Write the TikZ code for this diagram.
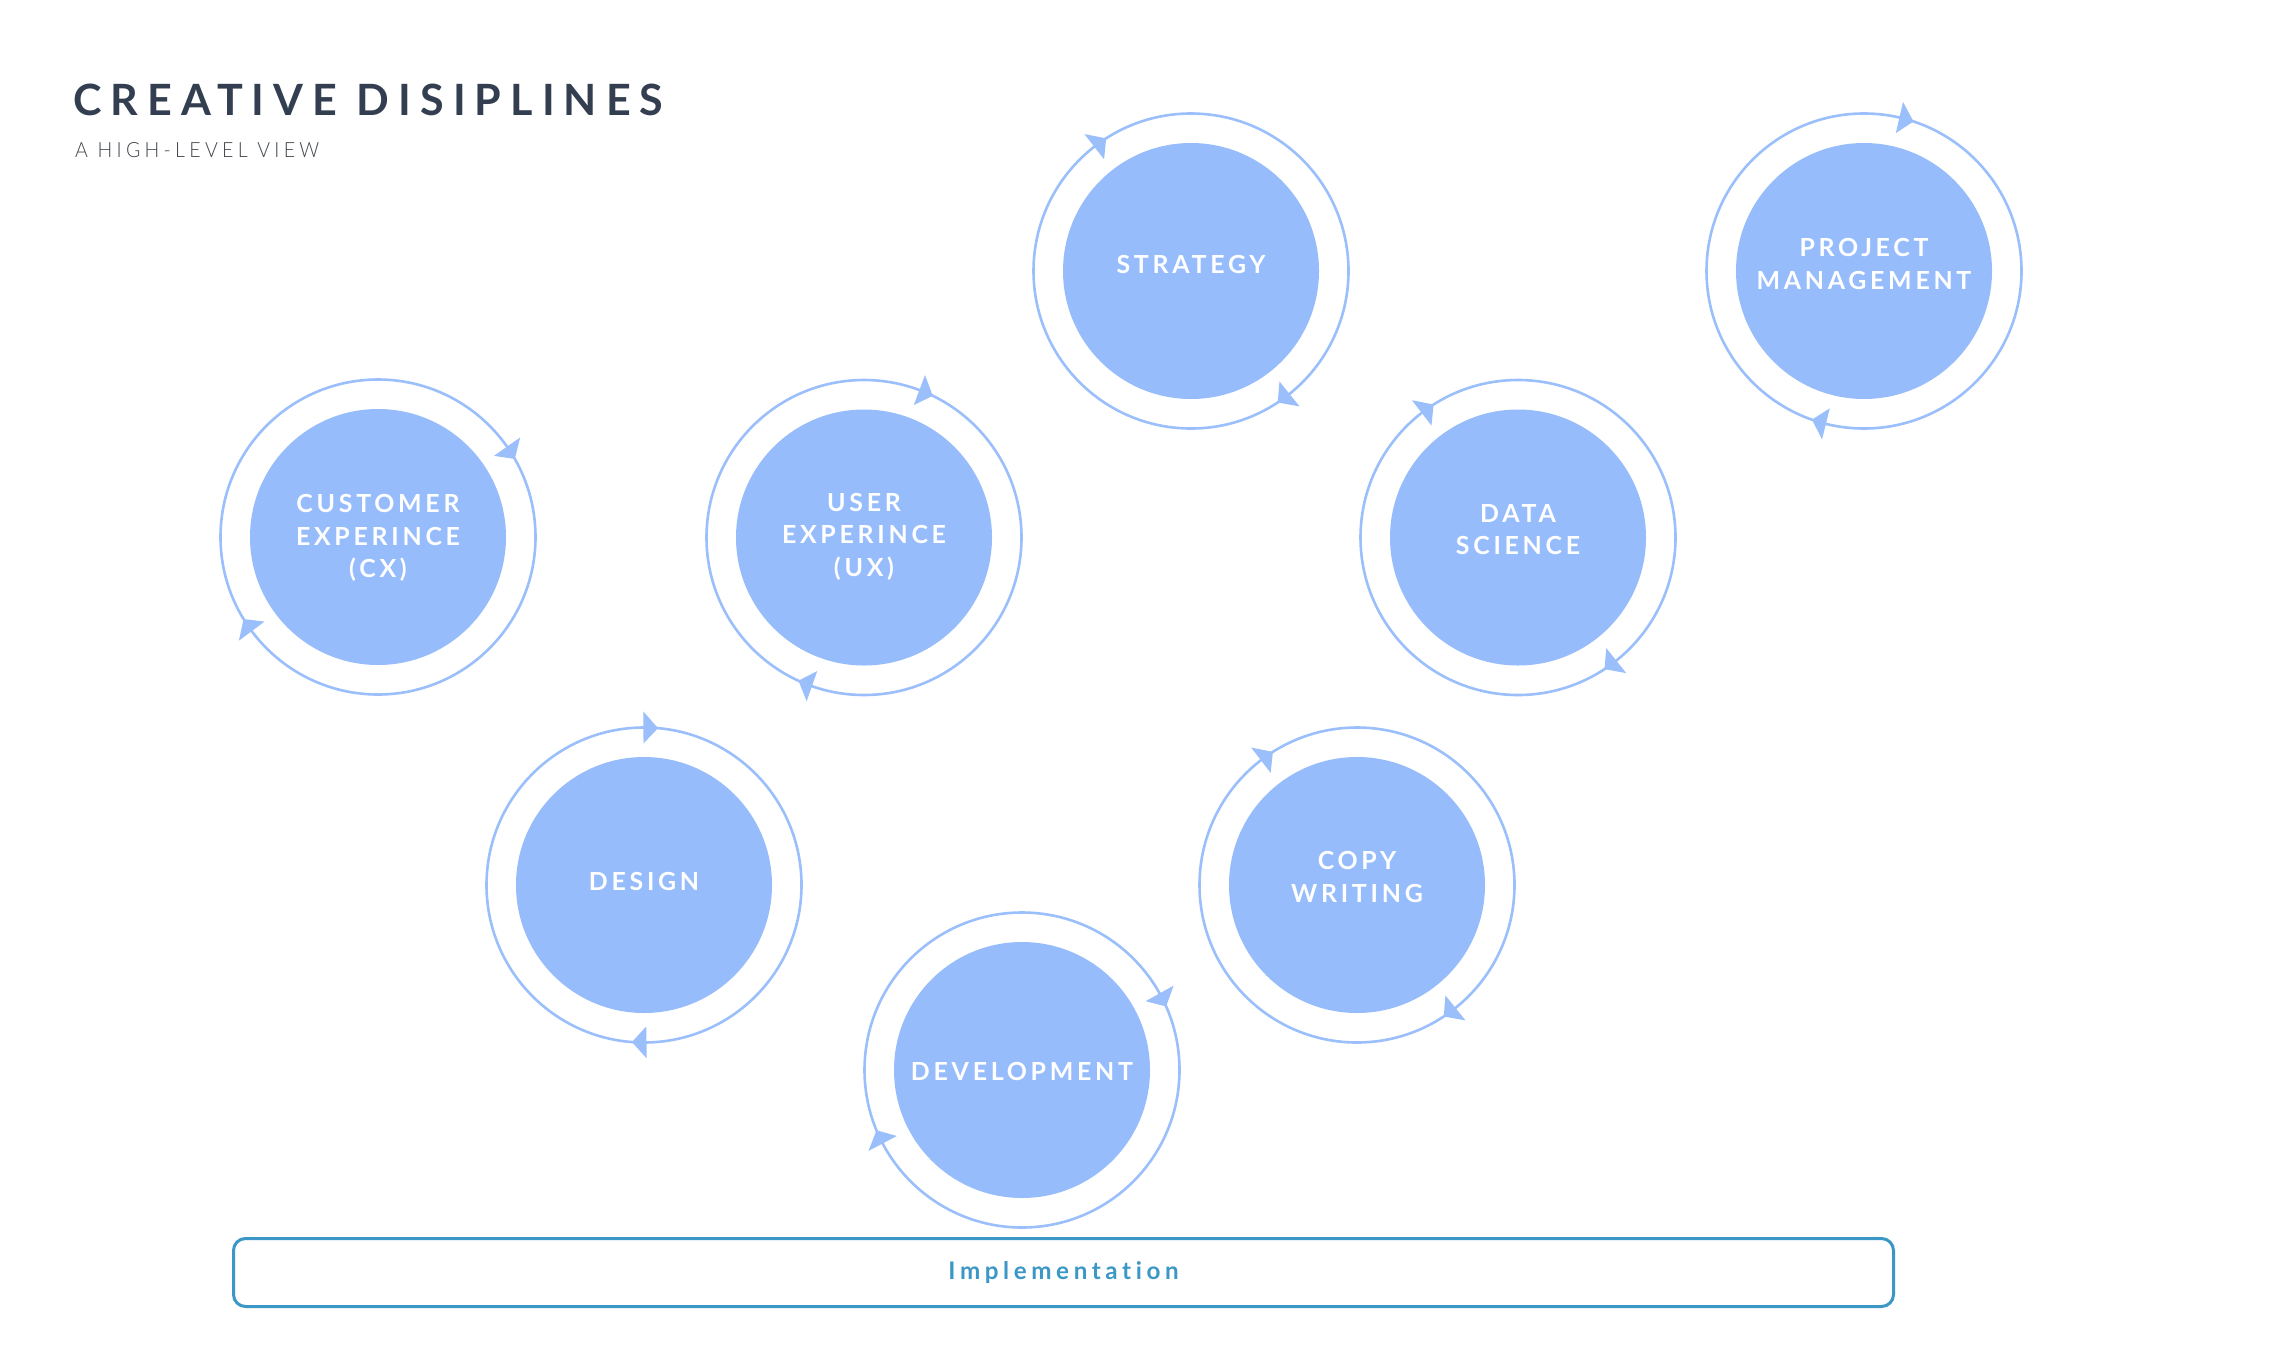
\documentclass[tikz,border=0pt]{standalone}
\usepackage{fontspec}
\usepackage{graphicx}
\setmainfont{Lato}
\newfontfamily\titlefam[LetterSpace=21]{Lato}
\newfontfamily\subfam[LetterSpace=22]{Lato Light}
\newfontfamily\discfam[LetterSpace=15]{Lato}
\newfontfamily\implfam[LetterSpace=19,Ligatures=NoCommon]{Lato}
\usetikzlibrary{calc}
\definecolor{discblue}{HTML}{96BCFB}
\definecolor{ringblue}{HTML}{9BBFFB}
\definecolor{titlecol}{HTML}{333F50}
\definecolor{subcol}{HTML}{42474F}
\definecolor{implcol}{HTML}{3B97C6}
\newcommand\cwtips[3]{%
  \foreach \a in {#2,#3}{%
    \fill[ringblue] ($(#1)+({\a}:157.5)$) -- ($(#1)+({\a-5.3}:141.5)$) -- ($(#1)+({\a-5.3}:173.5)$) -- cycle;}%
}
\begin{document}
\begin{tikzpicture}[x=1pt,y=-1pt,
  disc/.style={circle,fill=discblue,minimum size=256pt,inner sep=0pt},
  ring/.style={draw=ringblue,line width=2.6pt},
  disctext/.style={text=white,align=center,inner sep=0pt,font=\discfam\bfseries\fontsize{24.9}{32.4}\selectfont},
  implbox/.style={draw=implcol,line width=3pt,rounded corners=12pt,minimum width=1660pt,minimum height=68pt,inner sep=0pt,text=implcol,font=\implfam\bfseries\fontsize{24.2}{28}\selectfont}]
\fill[white] (0,0) rectangle (2279,1350);
\useasboundingbox (0,0) rectangle (2279,1350);

\node[anchor=base west,inner sep=0pt,text=titlecol,font=\titlefam\bfseries\fontsize{43}{50}\selectfont] (title) at (73,115.7) {\resizebox{590pt}{31.5pt}{CREATIVE DISIPLINES}};
\node[anchor=base west,inner sep=0pt,text=subcol,font=\subfam\fontsize{21}{25}\selectfont] (subtitle) at (75,157) {\resizebox{244pt}{15pt}{A HIGH-LEVEL VIEW}};

% discs
\node[disc] (cx) at (378,537) {};
\node[disc] (ux) at (864,537.5) {};
\node[disc] (strat) at (1191,271) {};
\node[disc] (ds) at (1518,537.5) {};
\node[disc] (pm) at (1864,271) {};
\node[disc] (des) at (644,885) {};
\node[disc] (cw) at (1357,885) {};
\node[disc] (dev) at (1022,1070) {};

% rings
\foreach \n in {cx,ux,strat,ds,pm,des,cw,dev}{\draw[ring] (\n.center) circle[radius=157.5pt];}

% clockwise arrow tips
\cwtips{cx}{-29.7}{148.6}
\cwtips{ux}{-64.1}{114.6}
\cwtips{strat}{-122.6}{56.6}
\cwtips{ds}{-122.4}{56.7}
\cwtips{pm}{-71.7}{109.3}
\cwtips{des}{-84.9}{94.4}
\cwtips{cw}{-122.3}{56.6}
\cwtips{dev}{-23.8}{157.5}

% labels
\node[disctext] (cxt) at ($(cx)+(0,1)$) {CUSTOMER\\EXPERINCE\\(CX)};
\node[disctext] (uxt) at ($(ux)+(0,-1)$) {USER\\EXPERINCE\\(UX)};
\node[disctext] (stratt) at ($(strat)+(0,-7)$) {STRATEGY};
\node[disctext] (dst) at ($(ds)+(0,-8)$) {DATA\\SCIENCE};
\node[disctext] (pmt) at ($(pm)+(0,-7)$) {PROJECT\\MANAGEMENT};
\node[disctext] (dest) at ($(des)+(0,-4)$) {DESIGN};
\node[disctext] (cwt) at ($(cw)+(0,-8)$) {COPY\\WRITING};
\node[disctext] (devt) at ($(dev)+(0,1)$) {DEVELOPMENT};

% implementation bar
\node[implbox] (impl) at (1063.5,1272.5) {Implementation};
\end{tikzpicture}
\end{document}
